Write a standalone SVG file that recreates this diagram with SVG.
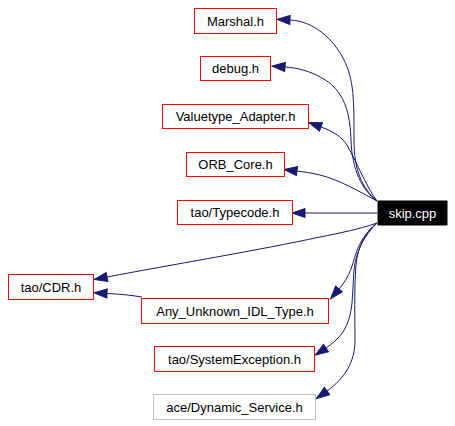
<svg xmlns="http://www.w3.org/2000/svg" width="455" height="426" viewBox="0 0 455 426">
<style>
.n rect{fill:#fff;stroke:#ff0000;stroke-width:1}
.n text{font-family:"Liberation Sans",Arial,sans-serif;font-size:13px;text-anchor:middle;fill:#000}
.g rect{stroke:#bfbfbf}
.root rect{fill:#000;stroke:#000}
.root text{fill:#fff}
.e path{fill:none;stroke:#191970;stroke-width:1;marker-end:url(#a)}
</style>
<defs>
<marker id="a" markerUnits="userSpaceOnUse" markerWidth="14" markerHeight="10" refX="0" refY="5" orient="auto" viewBox="0 0 14 10" overflow="visible">
<path d="M0,0.5 L13,5 L0,9.5 z" fill="#191970" stroke="#191970" stroke-width="1"/>
</marker>
</defs>
<rect width="455" height="426" fill="#fff"/>
<g class="e" id="edges">
<path d="M377,201 C362,188 354,170 354,140 C354,100 354,80 344,60 C333,38 313,21 290,20"/>
<path d="M377,201 C362,190 352,170 351,140 C350,105 340,88 322,78 C310,71 298,68 285,67"/>
<path d="M377,201 C366,186 358,165 347,145 C341,136 332,131 321,127"/>
<path d="M377,201 C360,192 340,180 320,175 C312,173 305,172 297,171"/>
<path d="M377,213 L305,213"/>
<path d="M377,223 C360,229 340,233 320,237 C260,250 170,265 107,277"/>
<path d="M142,297 C130,295 118,294 107,293.5"/>
<path d="M377,223 C366,232 360,242 356,253 C352,265 351,275 339,289"/>
<path d="M377,223 C365,235 356,250 354,270 C352,295 354,315 343,332 C338,339 332,344 326,348"/>
<path d="M377,223 C366,232 358,245 356,265 C354,290 355,320 355,340 C355,362 345,378 327,391"/>
</g>
<g class="n" id="n_marshal"><rect x="194.5" y="8.5" width="82" height="25"/><text x="235.5" y="25.5">Marshal.h</text></g>
<g class="n" id="n_debug"><rect x="200.5" y="56.5" width="70" height="24"/><text x="235.5" y="73">debug.h</text></g>
<g class="n" id="n_valuetype"><rect x="162.5" y="104.5" width="146" height="24"/><text x="235.5" y="121">Valuetype_Adapter.h</text></g>
<g class="n" id="n_orbcore"><rect x="186.5" y="152.5" width="98" height="24"/><text x="235.5" y="169">ORB_Core.h</text></g>
<g class="n" id="n_typecode"><rect x="177.5" y="200.5" width="115" height="24"/><text x="235" y="217">tao/Typecode.h</text></g>
<g class="n root" id="n_skip"><rect x="378" y="201" width="69" height="24"/><text x="412.5" y="217.5">skip.cpp</text></g>
<g class="n" id="n_cdr"><rect x="8.5" y="274.5" width="85" height="25"/><text x="51" y="291.5">tao/CDR.h</text></g>
<g class="n" id="n_any"><rect x="141.5" y="298.5" width="187" height="25"/><text x="235" y="315.5">Any_Unknown_IDL_Type.h</text></g>
<g class="n" id="n_sysexc"><rect x="154.5" y="346.5" width="160" height="25"/><text x="234.5" y="363.5">tao/SystemException.h</text></g>
<g class="n g" id="n_dynsvc"><rect x="153.5" y="394.5" width="162" height="25"/><text x="234.5" y="411.5">ace/Dynamic_Service.h</text></g>
</svg>
